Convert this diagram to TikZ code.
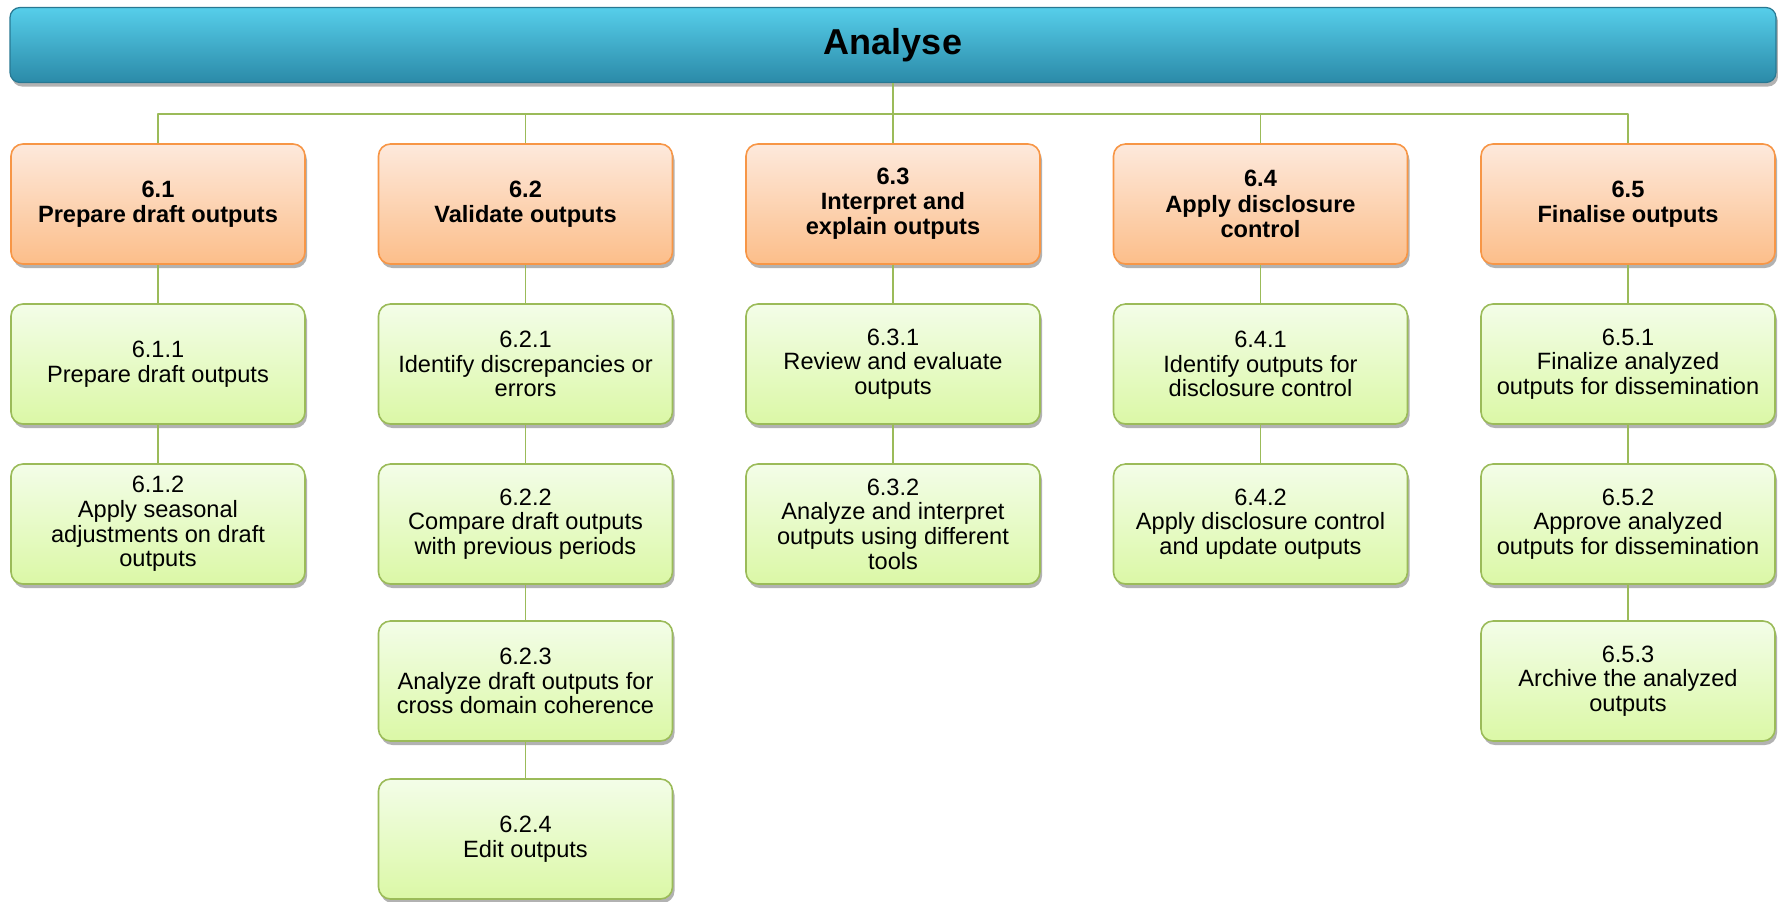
\documentclass[tikz,border=0pt]{standalone}
\usepackage{fontspec}
\setmainfont{Liberation Sans}
\usetikzlibrary{shadows}

\definecolor{titletop}{RGB}{86,206,234}
\definecolor{titlebot}{RGB}{43,138,168}
\definecolor{titleline}{RGB}{40,120,146}
\definecolor{orgtop}{RGB}{253,233,220}
\definecolor{orgbot}{RGB}{252,190,138}
\definecolor{orgline}{RGB}{247,150,70}
\definecolor{grntop}{RGB}{243,253,232}
\definecolor{grnbot}{RGB}{219,248,166}
\definecolor{grnline}{RGB}{155,187,89}

\begin{document}
\begin{tikzpicture}[x=0.5pt,y=-0.5pt,line join=round,
    boxshadow/.style={drop shadow={shadow xshift=1pt,shadow yshift=-2pt,opacity=0.3,fill=black}},
    titlebar/.style={draw=titleline,line width=0.6pt,rounded corners=5pt,top color=titletop,bottom color=titlebot,
      minimum width=883pt,minimum height=37.5pt,inner sep=0pt,boxshadow,
      font=\fontsize{18}{21}\selectfont\bfseries},
    phase/.style={draw=orgline,line width=0.8pt,rounded corners=6pt,top color=orgtop,bottom color=orgbot,
      minimum width=147pt,minimum height=60pt,inner sep=1pt,align=center,boxshadow,
      font=\fontsize{11.8}{12.6}\selectfont\bfseries},
    task/.style={draw=grnline,line width=0.8pt,rounded corners=6pt,top color=grntop,bottom color=grnbot,
      minimum width=147pt,minimum height=60pt,inner sep=1pt,align=center,boxshadow,
      font=\fontsize{11.8}{12.3}\selectfont},
    link/.style={draw=grnline,line width=0.75pt}]
  \useasboundingbox (0,0) rectangle (1778,901);

  % Title bar
  \node[titlebar] (title) at (893,45) {Analyse};

  % Sub-processes
  \node[phase] (p1) at (158,204) {6.1\\Prepare draft outputs};
  \node[phase] (p2) at (525.5,204) {6.2\\Validate outputs};
  \node[phase] (p3) at (893,204) {6.3\\Interpret and\\explain outputs};
  \node[phase] (p4) at (1260.5,204) {6.4\\Apply disclosure\\control};
  \node[phase] (p5) at (1628,204) {6.5\\Finalise outputs};

  % Tasks, column 6.1
  \node[task] (t11) at (158,364) {6.1.1\\Prepare draft outputs};
  \node[task] (t12) at (158,524) {6.1.2\\Apply seasonal\\adjustments on draft\\outputs};

  % Tasks, column 6.2
  \node[task] (t21) at (525.5,364) {6.2.1\\Identify discrepancies or\\errors};
  \node[task] (t22) at (525.5,524) {6.2.2\\Compare draft outputs\\with previous periods};
  \node[task] (t23) at (525.5,681) {6.2.3\\Analyze draft outputs for\\cross domain coherence};
  \node[task] (t24) at (525.5,839) {6.2.4\\Edit outputs};

  % Tasks, column 6.3
  \node[task] (t31) at (893,364) {6.3.1\\Review and evaluate\\outputs};
  \node[task] (t32) at (893,524) {6.3.2\\Analyze and interpret\\outputs using different\\tools};

  % Tasks, column 6.4
  \node[task] (t41) at (1260.5,364) {6.4.1\\Identify outputs for\\disclosure control};
  \node[task] (t42) at (1260.5,524) {6.4.2\\Apply disclosure control\\and update outputs};

  % Tasks, column 6.5
  \node[task] (t51) at (1628,364) {6.5.1\\Finalize analyzed\\outputs for dissemination};
  \node[task] (t52) at (1628,524) {6.5.2\\Approve analyzed\\outputs for dissemination};
  \node[task] (t53) at (1628,681) {6.5.3\\Archive the analyzed\\outputs};

  % Connectors from the title bar
  \draw[link] (title.south) -- ++(0,31) -| (p1.north);
  \draw[link] (title.south) -- ++(0,31) -| (p2.north);
  \draw[link] (title.south) -- ++(0,31) -| (p3.north);
  \draw[link] (title.south) -- ++(0,31) -| (p4.north);
  \draw[link] (title.south) -- ++(0,31) -| (p5.north);

  % Connectors down each column
  \draw[link] (p1.south) -- (t11.north);
  \draw[link] (t11.south) -- (t12.north);
  \draw[link] (p2.south) -- (t21.north);
  \draw[link] (t21.south) -- (t22.north);
  \draw[link] (t22.south) -- (t23.north);
  \draw[link] (t23.south) -- (t24.north);
  \draw[link] (p3.south) -- (t31.north);
  \draw[link] (t31.south) -- (t32.north);
  \draw[link] (p4.south) -- (t41.north);
  \draw[link] (t41.south) -- (t42.north);
  \draw[link] (p5.south) -- (t51.north);
  \draw[link] (t51.south) -- (t52.north);
  \draw[link] (t52.south) -- (t53.north);
\end{tikzpicture}
\end{document}
